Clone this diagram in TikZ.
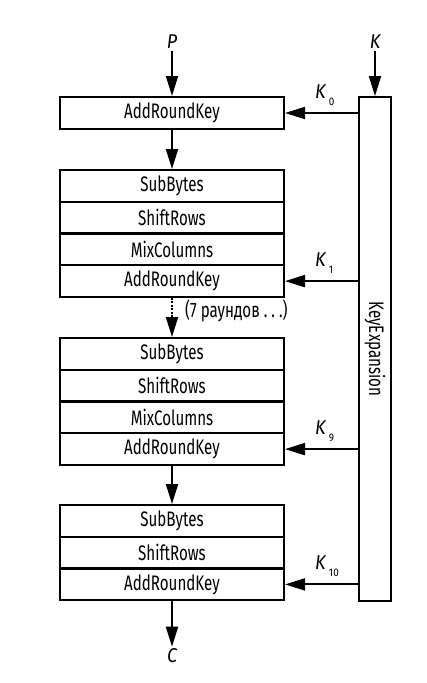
\documentclass[tikz,border=0pt]{standalone}
\usepackage{fontspec}
\setmainfont{Fira Sans}[FakeStretch=0.72]
\newfontfamily\labelfont{Fira Sans}[FakeStretch=0.9]
\usetikzlibrary{arrows.meta}
\begin{document}
\begin{tikzpicture}[x=1pt,y=-1pt,
  row/.style={draw, line width=2pt, minimum width=224pt, minimum height=31.75pt, inner sep=0pt, font=\fontsize{21}{24}\selectfont},
  lbl/.style={inner sep=2pt, font=\labelfont\fontsize{20}{22}\selectfont\itshape},
  klbl/.style={anchor=base west, inner sep=0pt, font=\labelfont\fontsize{20}{22}\selectfont},
  arr/.style={line width=2pt, -{Triangle[length=20pt,width=12pt]}},
  darr/.style={line width=2pt, dash pattern=on 2pt off 1.5pt, -{Triangle[length=20pt,width=12pt]}}]
\useasboundingbox (0,0) rectangle (427,683);
% round 0
\node[row, minimum height=32pt] (ark0) at (172,113) {AddRoundKey};
% round 1
\node[row] (sb1) at (172,185.9) {SubBytes};
\node[row] (sr1) at (172,217.6) {ShiftRows};
\node[row] (mc1) at (172,249.4) {MixColumns};
\node[row] (ark1) at (172,281.1) {AddRoundKey};
% round 9
\node[row] (sb9) at (172,353.9) {SubBytes};
\node[row] (sr9) at (172,385.6) {ShiftRows};
\node[row] (mc9) at (172,417.4) {MixColumns};
\node[row] (ark9) at (172,449.1) {AddRoundKey};
% round 10
\node[row] (sb10) at (172,520.9) {SubBytes};
\node[row] (sr10) at (172,552.6) {ShiftRows};
\node[row] (ark10) at (172,584.4) {AddRoundKey};
% key expansion
\node[draw, line width=2pt, minimum width=32pt, minimum height=504pt, inner sep=0pt, font=\fontsize{21}{24}\selectfont] (kx) at (375,349) {\rotatebox{-90}{KeyExpansion}};
% inputs / outputs
\node[lbl] (P) at (172,42) {P};
\node[lbl] (K) at (375,42) {K};
\node[lbl] (C) at (172,656) {C};
% key labels
\node[klbl] (k0) at (315,98) {\textit{K}\hspace{2.5pt}\raisebox{-7pt}{\fontsize{11}{11}\selectfont 0}};
\node[klbl] (k1) at (315,266) {\textit{K}\hspace{2.5pt}\raisebox{-7pt}{\fontsize{11}{11}\selectfont 1}};
\node[klbl] (k9) at (315,434) {\textit{K}\hspace{2.5pt}\raisebox{-7pt}{\fontsize{11}{11}\selectfont 9}};
\node[klbl] (k10) at (315,569) {\textit{K}\hspace{2.5pt}\raisebox{-7pt}{\fontsize{11}{11}\selectfont 10}};
% note
\node[anchor=west, inner sep=0pt, font=\fontsize{21}{24}\selectfont] (note) at (185,311) {(7 раундов .\ .\ .)};
% main data path
\draw[arr] (P) -- (ark0.north);
\draw[arr] (ark0.south) -- (sb1.north);
\draw[darr] (ark1.south) -- (sb9.north);
\draw[arr] (ark9.south) -- (sb10.north);
\draw[arr] (ark10.south) -- (C);
% key path
\draw[arr] (K) -- (kx.north);
\draw[arr] (kx.west |- ark0) -- (ark0.east);
\draw[arr] (kx.west |- ark1) -- (ark1.east);
\draw[arr] (kx.west |- ark9) -- (ark9.east);
\draw[arr] (kx.west |- ark10) -- (ark10.east);
\end{tikzpicture}
\end{document}
